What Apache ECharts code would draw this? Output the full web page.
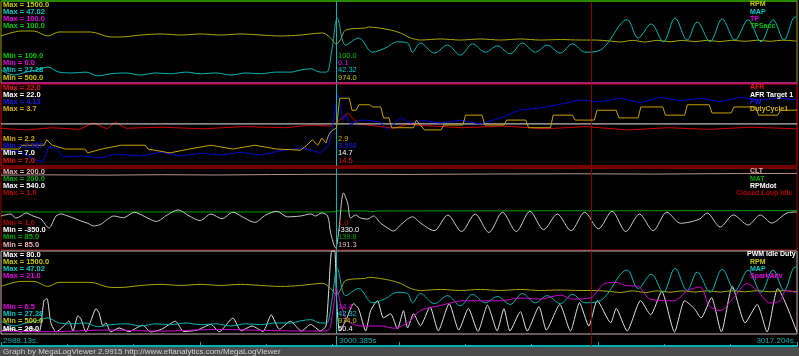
<!DOCTYPE html>
<html><head><meta charset="utf-8">
<script src="https://cdn.jsdelivr.net/npm/echarts@6/dist/echarts.min.js"></script>
<style>html,body{margin:0;padding:0;background:#000;overflow:hidden}#c{width:799px;height:356px}</style>
</head><body><div id="c"></div><script>
const T_START = 2988.13, T_END = 3017.204, T_CURSOR = 3000.385, T_MARK = 3009.69;
const timeLabels = ['2988.13s.', '3000.385s', '3017.204s.'];
const footerText = 'Graph by MegaLogViewer 2.9915 http://www.efianalytics.com/MegaLogViewer';

// Panel 1 / 4 shared
const rpm = [[2988.13,1073],[2988.86,1134],[2989.33,1134],[2989.84,1073],[2990.25,1122],[2991.41,1122],[2992.14,1061],[2992.51,1061],[2993.24,1085],[2993.97,1098],[2994.70,1085],[2995.43,1098],[2996.16,1085],[2996.89,1098],[2997.62,1085],[2998.34,1073],[2999.07,1085],[2999.88,1110],[3000.17,1049],[3000.38,974],[3000.53,1030],[3000.72,1146],[3001.45,1171],[3001.55,1183],[3002.36,1146],[3002.72,1110],[3003.09,1049],[3003.45,1024],[3004.18,1037],[3004.91,1024],[3005.64,1037],[3006.37,1024],[3007.10,1037],[3007.83,1024],[3008.56,1030],[3009.29,1024],[3009.84,1024],[3010.38,1012],[3010.75,1000],[3011.19,1020],[3011.66,1000],[3012.10,1020],[3012.57,1003],[3013.01,1020],[3013.48,1005],[3013.92,1020],[3014.40,1005],[3014.83,1022],[3015.31,1008],[3015.75,1022],[3016.22,1008],[3016.66,1022],[3017.20,1010]];
const map = [[2988.13,30.4],[2988.60,29.2],[2989.04,29.9],[2989.41,30.4],[2989.84,31.1],[2990.25,29.9],[2990.76,29.7],[2991.23,29.9],[2991.67,29.0],[2992.14,29.5],[2992.69,29.7],[2993.24,29.2],[2993.78,29.7],[2994.33,29.5],[2994.88,29.9],[2995.43,29.5],[2995.97,29.7],[2996.52,29.2],[2997.07,29.7],[2997.62,29.5],[2998.16,29.9],[2998.71,29.9],[2999.07,30.4],[2999.44,30.7],[2999.80,29.9],[3000.02,29.9],[3000.21,35.0],[3000.42,42.9],[3000.72,36.4],[3001.19,38.1],[3001.70,34.7],[3002.17,35.7],[3002.61,37.2],[3002.98,36.9],[3003.16,34.7],[3003.45,36.9],[3003.96,34.5],[3004.44,36.4],[3004.91,34.0],[3005.35,36.7],[3005.82,34.7],[3006.26,36.2],[3006.73,34.3],[3007.17,36.9],[3007.65,34.7],[3008.08,36.4],[3008.56,34.5],[3009.00,36.7],[3009.47,34.7],[3010.02,35.2],[3011.00,42.5],[3011.40,38.1],[3011.88,41.5],[3012.32,37.2],[3012.75,42.9],[3013.19,37.6],[3013.56,42.0],[3014.03,37.2],[3014.47,42.7],[3014.94,37.6],[3015.42,42.5],[3015.89,37.2],[3016.33,42.5],[3016.73,37.6],[3017.13,43.2],[3017.20,43.0]];
const tp = [[2988.13,0.0],[3000.2,0.0],[3000.385,0.1],[3000.6,0.0],[3017.204,0.0]];
const tpsacc = [[2988.13,100],[3017.204,100]];

// Panel 2
const afr = [[2988.13,13.9],[2989.0,13.6],[2990.0,14.0],[2991.0,13.7],[2991.5,14.9],[2992.0,13.8],[2992.3,15.0],[2992.7,13.9],[2994.0,14.1],[2995.5,13.8],[2997.0,14.2],[2998.5,14.0],[2999.5,14.5],[3000.2,14.3],[3000.5,15.4],[3000.8,16.7],[3001.0,15.6],[3001.2,14.7],[3002.0,14.2],[3002.5,13.9],[3003.0,14.7],[3003.5,14.4],[3005.0,14.0],[3006.5,14.3],[3008.0,13.8],[3009.5,14.2],[3011.0,13.6],[3012.5,14.0],[3014.0,13.7],[3015.5,14.1],[3017.2,13.8]];
const afrTarget = [[2988.13,14.7],[3017.204,14.7]];
const pw = [[2988.13,2.73],[2988.86,2.68],[2989.41,2.51],[2989.66,2.47],[2989.88,2.79],[2990.14,2.77],[2990.39,2.58],[2991.05,2.60],[2991.78,2.56],[2992.33,2.64],[2993.24,2.60],[2993.97,2.68],[2994.70,2.60],[2995.43,2.66],[2996.16,2.62],[2996.89,2.68],[2997.61,2.62],[2998.34,2.71],[2999.07,2.77],[2999.44,2.73],[2999.80,2.66],[3000.10,2.83],[3000.28,3.36],[3000.42,3.90],[3000.53,3.68],[3000.61,3.36],[3000.72,3.47],[3000.90,3.26],[3001.15,3.36],[3001.52,3.36],[3001.99,3.32],[3002.25,3.15],[3002.54,3.32],[3002.72,3.41],[3003.09,3.30],[3003.45,3.36],[3004.18,3.30],[3004.91,3.36],[3005.64,3.28],[3006.37,3.41],[3007.10,3.58],[3007.83,3.62],[3008.56,3.70],[3009.29,3.79],[3010.02,3.75],[3010.75,3.83],[3011.48,3.73],[3012.21,3.85],[3012.94,3.77],[3013.67,3.83],[3014.40,3.75],[3015.13,3.85],[3015.86,3.79],[3016.58,3.83],[3017.20,3.79]];
const duty = [[2988.13,2.51],[2988.8,2.51],[2988.9,2.58],[2989.7,2.58],[2989.8,2.68],[2990.0,2.58],[2990.5,2.51],[2991.2,2.51],[2991.3,2.44],[2991.8,2.51],[2992.5,2.58],[2993.4,2.58],[2993.5,2.51],[2994.3,2.44],[2995.0,2.51],[2995.8,2.58],[2996.6,2.51],[2997.4,2.58],[2998.2,2.51],[2999.07,2.49],[2999.3,2.58],[2999.5,2.68],[2999.7,2.58],[2999.85,2.71],[3000.0,2.62],[3000.1,2.77],[3000.2,2.84],[3000.385,2.9],[3000.5,3.44],[3000.85,3.44],[3000.95,3.22],[3001.1,3.22],[3001.2,3.32],[3001.6,3.32],[3001.7,3.28],[3002.0,3.28],[3002.1,3.08],[3002.3,3.08],[3002.4,2.90],[3003.2,2.90],[3003.3,3.04],[3003.6,2.86],[3004.2,2.86],[3004.3,2.95],[3005.0,2.95],[3005.1,3.13],[3005.7,3.13],[3005.8,2.95],[3006.5,2.95],[3006.6,3.04],[3007.3,3.04],[3007.4,2.90],[3008.2,2.90],[3008.3,3.13],[3009.0,3.13],[3009.1,3.04],[3009.8,3.04],[3009.9,3.22],[3010.6,3.22],[3010.7,3.08],[3011.4,3.08],[3011.5,3.28],[3012.3,3.28],[3012.4,3.13],[3013.1,3.13],[3013.2,3.32],[3014.0,3.32],[3014.1,3.17],[3014.8,3.17],[3014.9,3.28],[3015.7,3.28],[3015.8,3.13],[3016.5,3.13],[3016.6,3.22],[3017.2,3.22]];

// Panel 3
const clt = [[2988.13,190.0],[2990.0,190.4],[2992.0,190.0],[2994.0,190.6],[2996.0,190.2],[2998.0,190.8],[3000.385,191.3],[3003.0,191.0],[3006.0,191.6],[3009.0,191.9],[3012.0,191.5],[3015.0,192.2],[3017.2,192.4]];
const mat = [[2988.13,138.4],[3000.2,138.4],[3000.385,139.8],[3001.5,139.8],[3001.6,138.4],[3001.9,139.8],[3017.2,140.2]];
const rpmdot = [[2988.13,19],[2988.49,41],[2988.67,-3],[2988.86,19],[2989.04,52],[2989.30,19],[2989.59,-14],[2989.88,-111],[2990.14,19],[2990.32,41],[2990.57,19],[2990.87,-14],[2991.05,-35],[2991.30,-60],[2991.52,-89],[2991.78,-70],[2992.03,-14],[2992.25,19],[2992.6,0],[2993.0,60],[2993.4,10],[2993.8,-40],[2994.2,30],[2994.6,85],[2995.0,20],[2995.4,-30],[2995.8,40],[2996.2,-10],[2996.6,60],[2997.0,0],[2997.4,-50],[2997.8,30],[2998.2,70],[2998.6,10],[2999.07,19],[2999.44,41],[2999.62,19],[2999.84,52],[3000.06,19],[3000.17,-165],[3000.35,-328],[3000.46,-165],[3000.64,269],[3000.79,160],[3000.90,-3],[3001.08,30],[3001.26,-3],[3001.52,-14],[3001.74,19],[3001.99,-57],[3002.25,-111],[3002.47,-144],[3002.72,-80],[3002.98,-14],[3003.16,10],[3003.45,-57],[3003.95,-140],[3004.45,30],[3004.95,-150],[3005.45,40],[3005.95,-160],[3006.45,60],[3006.95,-150],[3007.45,70],[3007.95,-130],[3008.45,40],[3008.95,-140],[3009.45,60],[3009.95,-120],[3010.45,70],[3010.95,-150],[3011.45,40],[3011.95,-140],[3012.45,60],[3012.95,-60],[3013.3,-46],[3013.67,-10],[3013.92,52],[3014.40,-100],[3014.88,30],[3015.42,-79],[3015.86,30],[3016.28,-57],[3016.84,52],[3017.20,63]];
const cli = [[2988.13,1],[3017.204,1]];

// Panel 4
const pwmIdle = [[2988.13,29.9],[2988.49,31.2],[2988.86,29.3],[2989.22,31.8],[2989.52,29.3],[2989.70,48.9],[2989.81,50.2],[2989.95,35.0],[2990.14,29.3],[2990.39,32.4],[2990.61,36.2],[2990.76,29.9],[2990.94,39.4],[2991.05,37.5],[2991.23,29.3],[2991.41,36.2],[2991.60,43.9],[2991.71,41.3],[2991.85,33.1],[2991.96,35.0],[2992.14,29.3],[2992.44,31.8],[2992.8,29.5],[2993.3,33.5],[2993.6,29.3],[2994.0,31.0],[2994.5,36.0],[2994.8,29.5],[2995.3,30.5],[2995.8,34.0],[2996.1,29.4],[2996.6,38.0],[2996.9,30.0],[2997.3,33.0],[2997.7,29.6],[2998.0,40.0],[2998.3,31.0],[2998.7,36.0],[2999.1,29.8],[2999.44,34.0],[2999.80,29.9],[3000.00,33.1],[3000.10,55.3],[3000.21,80],[3000.32,80],[3000.385,50.4],[3000.50,29.9],[3000.72,36.2],[3001.01,47.0],[3001.19,43.9],[3001.45,29.9],[3001.63,42.6],[3001.88,48.9],[3002.10,38.1],[3002.36,40.7],[3002.61,31.2],[3002.83,42.6],[3002.98,31.8],[3003.20,40.7],[3003.45,33.1],[3003.8,45.0],[3004.1,30.0],[3004.5,47.0],[3004.85,30.5],[3005.2,44.0],[3005.55,29.6],[3005.9,46.0],[3006.25,30.0],[3006.50,43.9],[3006.72,29.9],[3007.10,42.0],[3007.35,29.9],[3007.78,45.2],[3008.05,30.5],[3008.54,46.5],[3008.93,29.9],[3009.26,47.6],[3009.60,33.0],[3009.91,48.9],[3010.40,35.0],[3010.60,44.0],[3011.00,29.9],[3011.49,48.9],[3011.86,40.0],[3012.26,54.6],[3012.73,29.3],[3013.10,48.9],[3013.45,44.0],[3013.70,38.0],[3014.08,50.8],[3014.44,29.3],[3014.84,57.8],[3015.31,35.0],[3015.75,46.5],[3016.11,29.3],[3016.50,56.5],[3017.20,29.3]];
const spark = [[2988.13,7.0],[2990.0,6.9],[2992.0,7.2],[2994.0,7.0],[2996.0,7.3],[2998.0,7.1],[2999.8,7.0],[3000.10,7.2],[3000.25,10.5],[3000.385,14.4],[3000.55,11.5],[3000.79,8.8],[3001.3,7.9],[3002.0,7.9],[3002.5,7.5],[3003.0,8.5],[3003.45,10.6],[3004.2,11.5],[3005.0,12.3],[3006.37,12.3],[3007.10,12.8],[3007.83,12.6],[3008.56,13.3],[3009.0,12.6],[3009.66,12.8],[3010.17,15.3],[3010.66,15.5],[3010.90,15.0],[3011.40,14.8],[3011.84,12.6],[3012.70,12.3],[3013.22,14.1],[3013.67,14.7],[3014.00,11.4],[3014.40,10.6],[3014.88,12.8],[3015.38,15.3],[3015.75,14.1],[3016.22,11.9],[3016.58,12.3],[3016.80,14.1],[3017.20,13.7]];

// text rows (max labels top-down, min labels / cursor values top-down)
const p1Max = ['Max = 1500.0','Max = 47.02','Max = 100.0','Max = 100.0'];
const p1Min = ['Min = 100.0','Min = 0.0','Min = 27.28','Min = 500.0'];
const p1Cur = ['100.0','0.1','42.32','974.0'];
const p1Names = ['RPM','MAP','TP','TPSacc'];
const p2Max = ['Max = 22.0','Max = 22.0','Max = 4.13','Max = 3.7'];
const p2Min = ['Min = 2.2','Min = 2.387','Min = 7.0','Min = 7.0'];
const p2Cur = ['2.9','3.598','14.7','14.5'];
const p2Names = ['AFR','AFR Target 1','PW','DutyCycle1'];
const p3Max = ['Max = 200.0','Max = 200.0','Max = 540.0','Max = 1.0'];
const p3Min = ['Min = 1.0','Min = -350.0','Min = 85.0','Min = 85.0'];
const p3Cur = ['1.0','-330.0','139.8','191.3'];
const p3Names = ['CLT','MAT','RPMdot','Closed Loop Idle'];
const p4Max = ['Max = 80.0','Max = 1500.0','Max = 47.02','Max = 21.0'];
const p4Min = ['Min = 6.5','Min = 27.28','Min = 500.0','Min = 28.0'];
const p4Cur = ['14.4','42.32','974.0','50.4'];
const p4Names = ['PWM Idle Duty','RPM','MAP','SparkAdv'];

const C = {
  rpm:{line:'#a8a800', txt:'#c8c800'}, map:{line:'#00b4b4', txt:'#00c8c8'}, tp:{line:'#e000e0', txt:'#e000e0'},
  tpsacc:{line:'#00c000', txt:'#00c800'}, afr:{line:'#d00000', txt:'#e81010'}, afrt:{line:'#e8e8e8', txt:'#ffffff'},
  pw:{line:'#0000d8', txt:'#1818e8'}, duty:{line:'#c8a000', txt:'#d8b000'}, clt:{line:'#b89090', txt:'#e8b0b0'},
  mat:{line:'#00a000', txt:'#00a800'}, rpmdot:{line:'#c8c8c8', txt:'#ffffff'}, cli:{line:'#a00000', txt:'#b00000'},
  pwm:{line:'#e0e0e0', txt:'#ffffff'}, spark:{line:'#d000d0', txt:'#e000e0'}
};

const panels = [
  {top:1, h:82, border:'#a0a000', max:p1Max, min:p1Min, cur:p1Cur, names:p1Names,
   s:[{d:rpm,c:C.rpm,lo:500,hi:1500,sm:0.3},{d:map,c:C.map,lo:27.28,hi:47.02,sm:0.35},{d:tp,c:C.tp,lo:0,hi:100},{d:tpsacc,c:C.tpsacc,lo:0,hi:100}],
   nameX:[750,750,750,750]},
  {top:84, h:82, border:'#e00000', max:p2Max, min:p2Min, cur:p2Cur, names:p2Names,
   s:[{d:afr,c:C.afr,lo:7,hi:22},{d:afrTarget,c:C.afrt,lo:7,hi:22},{d:pw,c:C.pw,lo:2.387,hi:4.13},{d:duty,c:C.duty,lo:2.2,hi:3.7}],
   nameX:[750,750,750,750]},
  {top:168, h:82, border:'#a00000', max:p3Max, min:p3Min, cur:p3Cur, names:p3Names,
   s:[{d:clt,c:C.clt,lo:85,hi:200},{d:mat,c:C.mat,lo:85,hi:200},{d:rpmdot,c:C.rpmdot,lo:-350,hi:540,sm:0.3},{d:cli,c:C.cli,lo:0,hi:1}],
   nameX:[750,750,750,736]},
  {top:251, h:83, border:'#c8b0b0', max:p4Max, min:p4Min, cur:p4Cur, names:p4Names,
   s:[{d:pwmIdle,c:C.pwm,lo:28,hi:80,sm:0.2},{d:rpm,c:C.rpm,lo:500,hi:1500,sm:0.3},{d:map,c:C.map,lo:27.28,hi:47.02,sm:0.35},{d:spark,c:C.spark,lo:6.5,hi:21,sm:0.3}],
   nameX:[747,750,750,750]}
];

const FONT_B = 'bold 7.5px "Liberation Sans", Arial, sans-serif';
const FONT_L = 'bold 7px "Liberation Sans", Arial, sans-serif';
const FONT_N = '7.5px "Liberation Sans", Arial, sans-serif';
const grid=[], xAxis=[], yAxis=[], series=[], graphic=[];
function txt(x,y,text,fill,font,align){
  graphic.push({type:'text', x:x, y:y, z:100, silent:true,
    style:{text:text, fill:fill, font:font, align:align||'left', verticalAlign:'middle', textAlign:align||'left', textVerticalAlign:'middle'}});
}
panels.forEach((p,pi)=>{
  grid.push({left:1, width:796, top:p.top, height:p.h, show:true, borderColor:p.border, borderWidth:1, backgroundColor:'#000'});
  xAxis.push({type:'value', gridIndex:pi, min:T_START, max:T_END, show:false});
  p.s.forEach((s,si)=>{
    const yi = yAxis.length;
    yAxis.push({type:'value', gridIndex:pi, min:s.lo, max:s.hi, show:false});
    const ser = {type:'line', xAxisIndex:pi, yAxisIndex:yi, data:s.d, symbol:'none', showSymbol:false,
      smooth:s.sm||false, lineStyle:{color:s.c.line, width:1}, animation:false, silent:true, z:2+si, clip:false};
    if(si===0){
      ser.markLine = {silent:true, symbol:'none', label:{show:false}, animation:false,
        data:[{xAxis:T_MARK, lineStyle:{color:'#8c0000', width:1, type:'solid'}},
              {xAxis:T_CURSOR, lineStyle:{color:'#00b8b8', width:1, type:'solid'}}]};
    }
    series.push(ser);
  });
  const cols = p.s.map(s=>s.c.txt);
  const bottom = p.top + p.h;
  p.max.forEach((t,i)=>{ txt(3, p.top+3.5+i*7.3, t, cols[i], FONT_B); });
  p.min.forEach((t,i)=>{ txt(3, bottom-5.5-(3-i)*7.1, t, cols[3-i], FONT_B); });
  p.cur.forEach((t,i)=>{ txt(338, bottom-5.5-(3-i)*7.1, t, cols[3-i], FONT_N); });
  p.names.forEach((t,i)=>{ txt(p.nameX[i], p.top+3.5+i*7.3, t, cols[i], FONT_L); });
});
// time strip
grid.push({left:1, width:796, top:336, height:10, show:false});
xAxis.push({type:'value', gridIndex:4, min:T_START, max:T_END, interval:(T_END-T_START)/4,
  axisLine:{show:true, lineStyle:{color:'#00b0b0', width:2}},
  axisTick:{show:true, inside:true, length:4, lineStyle:{color:'#00b0b0', width:1}},
  minorTick:{show:true, splitNumber:3, length:2, lineStyle:{color:'#00b0b0', width:1}},
  axisLabel:{show:false}, splitLine:{show:false}});
yAxis.push({type:'value', gridIndex:4, min:0, max:1, show:false});
series.push({type:'line', xAxisIndex:4, yAxisIndex:yAxis.length-1, data:[], symbol:'none', animation:false,
  markLine:{silent:true, symbol:'none', label:{show:false}, animation:false,
    data:[{xAxis:T_MARK, lineStyle:{color:'#8c0000', width:1, type:'solid'}},
          {xAxis:T_CURSOR, lineStyle:{color:'#00b8b8', width:1, type:'solid'}}]}});
txt(3, 341, timeLabels[0], '#00b0b0', '8px "Liberation Sans", Arial, sans-serif');
txt(339, 341, timeLabels[1], '#00b0b0', '8px "Liberation Sans", Arial, sans-serif');
txt(796, 341, timeLabels[2], '#00b0b0', '8px "Liberation Sans", Arial, sans-serif', 'right');
graphic.push({type:'rect', shape:{x:0, y:347, width:799, height:9}, style:{fill:'#4c4c4c'}, z:90, silent:true});
txt(3, 352, footerText, '#d0d0d0', '8px "Liberation Sans", Arial, sans-serif');

const chart = echarts.init(document.getElementById('c'), null, {renderer:'canvas', width:799, height:356});
chart.setOption({backgroundColor:'#000', animation:false, grid, xAxis, yAxis, series, graphic});
</script></body></html>
